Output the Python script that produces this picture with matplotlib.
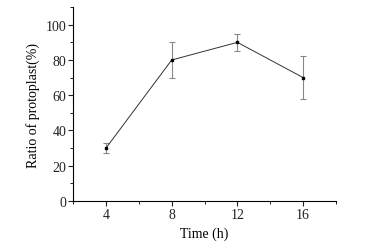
import numpy as np
import matplotlib.pyplot as plt
from matplotlib.ticker import MultipleLocator

plt.rcParams['font.family'] = ['Liberation Serif', 'DejaVu Serif']

time_h = [4, 8, 12, 16]
ratio = [30, 80, 90, 70]
err = [3, 10, 5, 12]

fig = plt.figure(figsize=(3.75, 2.53), dpi=100)
ax = fig.add_axes([0.195, 0.2016, 0.701, 0.7664])

ax.errorbar(time_h, ratio, yerr=err, color='#333333', lw=0.7, marker='s', ms=2,
            mfc='black', mec='black', ecolor='#888888', elinewidth=0.8, capsize=2.5, capthick=0.8)

ax.set_xlim(2, 18)
ax.set_ylim(0, 110)
ax.set_xticks(time_h)
ax.xaxis.set_minor_locator(MultipleLocator(2))
ax.set_yticks([0, 20, 40, 60, 80, 100])
ax.yaxis.set_minor_locator(MultipleLocator(10))
for s in ['top', 'right']:
    ax.spines[s].set_visible(False)
for s in ['left', 'bottom']:
    ax.spines[s].set_linewidth(0.8)
ax.tick_params(which='major', length=3.5, width=0.8, labelsize=10, pad=1.5, colors='#222222')
ax.tick_params(which='minor', length=2, width=0.6)
ax.set_xlabel('Time (h)', fontsize=10, labelpad=4)
ax.set_ylabel('Ratio of protoplast(%)', fontsize=10, labelpad=4)

fig.savefig('out.png', dpi=100)
